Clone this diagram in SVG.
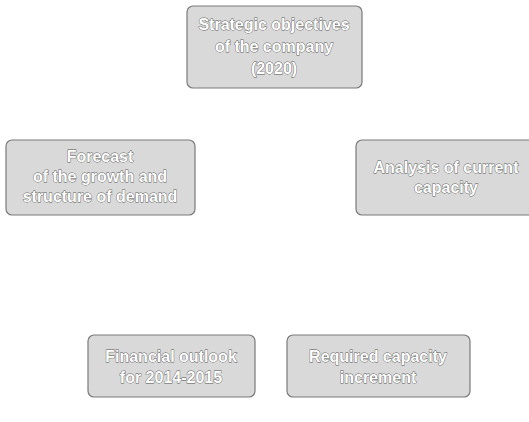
<svg xmlns="http://www.w3.org/2000/svg" width="529" height="422" viewBox="0 0 529 422">
<style>
.box{fill:#d9d9d9;stroke:#7a7a7a;stroke-width:1.2}
.t{font-family:"Liberation Sans",Arial,sans-serif;font-size:16px;font-weight:bold;fill:#ffffff;stroke:#555;stroke-width:0.8;paint-order:stroke;text-anchor:middle}
</style>
<rect width="529" height="422" fill="#ffffff"/>
<g id="connectors"/>
<g id="n-top">
<rect class="box" x="187" y="6" width="175" height="82" rx="6"/>
<text class="t" x="274" y="30">Strategic objectives</text>
<text class="t" x="274" y="52">of the company</text>
<text class="t" x="274" y="74">(2020)</text>
</g>
<g id="n-left">
<rect class="box" x="6" y="140" width="189" height="75" rx="6"/>
<text class="t" x="100" y="162">Forecast</text>
<text class="t" x="100" y="182">of the growth and</text>
<text class="t" x="100" y="202">structure of demand</text>
</g>
<g id="n-right">
<rect class="box" x="356" y="140" width="180" height="75" rx="6"/>
<text class="t" x="446" y="173">Analysis of current</text>
<text class="t" x="446" y="193">capacity</text>
</g>
<g id="n-bl">
<rect class="box" x="88" y="335" width="167" height="62" rx="6"/>
<text class="t" x="171" y="362">Financial outlook</text>
<text class="t" x="171" y="383">for 2014-2015</text>
</g>
<g id="n-br">
<rect class="box" x="287" y="335" width="183" height="62" rx="6"/>
<text class="t" x="378" y="362">Required capacity</text>
<text class="t" x="378" y="383">increment</text>
</g>
</svg>
